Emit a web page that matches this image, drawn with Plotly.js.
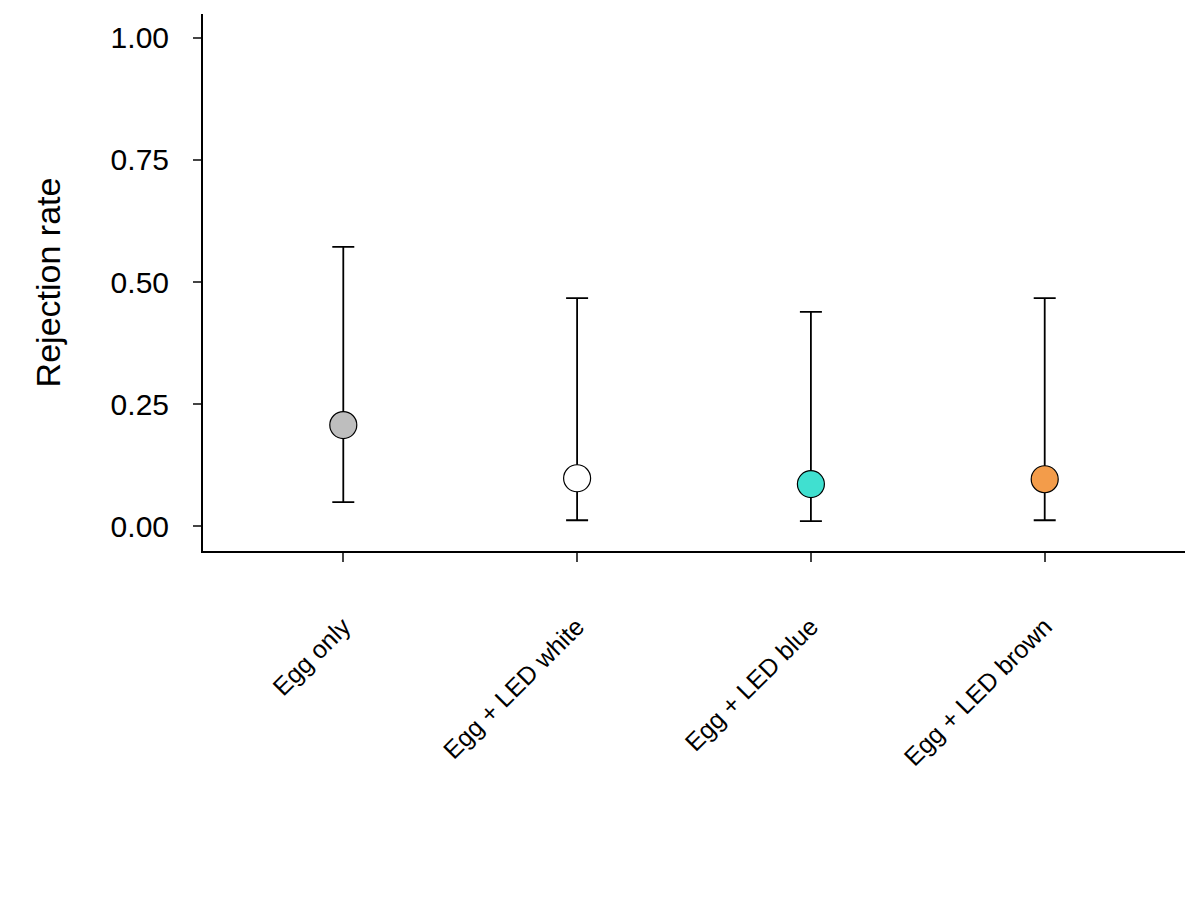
<!DOCTYPE html>
<html><head><meta charset="utf-8">
<script src="https://cdn.plot.ly/plotly-3.0.1.min.js"></script>
<style>body{margin:0}</style></head>
<body><div id="c" style="width:1200px;height:899px"></div>
<script>
const categories = ["Egg only","Egg + LED white","Egg + LED blue","Egg + LED brown"];
const rate = [0.207, 0.098, 0.086, 0.096];
const upper = [0.572, 0.467, 0.439, 0.467];
const lower = [0.049, 0.012, 0.010, 0.012];
const colors = ["#bebebe","#ffffff","#40e0d0","#f39c4a"];
const idx = categories.map((c,i)=>i);
const trace = {
  x: idx, y: rate, type:"scatter", mode:"markers",
  marker:{size:27, color:colors, line:{color:"#000", width:1.2}},
  error_y:{type:"data", symmetric:false,
    array: upper.map((u,i)=>u-rate[i]),
    arrayminus: lower.map((l,i)=>rate[i]-l),
    color:"#000", thickness:1.8, width:11},
  hoverinfo:"none"
};
const layout = {
  width:1200, height:899, showlegend:false,
  margin:{l:203, r:15, t:14, b:348},
  paper_bgcolor:"#fff", plot_bgcolor:"#fff",
  font:{family:"Liberation Sans, Arial, sans-serif", color:"#000"},
  xaxis:{range:[-0.6,3.6], tickvals:idx, ticktext:categories, tickangle:-45,
    tickfont:{size:25}, ticks:"outside", ticklen:9, tickwidth:1.5, showgrid:false,
    ticklabelstandoff:40,
    zeroline:false, showline:true, linewidth:2, linecolor:"#000"},
  yaxis:{range:[-0.051,1.049], tickvals:[0,0.25,0.5,0.75,1], tickformat:".2f",
    tickfont:{size:30}, ticks:"outside", ticklen:8, tickwidth:1.5, showgrid:false,
    ticklabelstandoff:18,
    zeroline:false, showline:true, linewidth:2, linecolor:"#000",
    title:{text:"Rejection rate", font:{size:34}, standoff:40}}
};
Plotly.newPlot("c",[trace],layout,{displayModeBar:false});
</script></body></html>
